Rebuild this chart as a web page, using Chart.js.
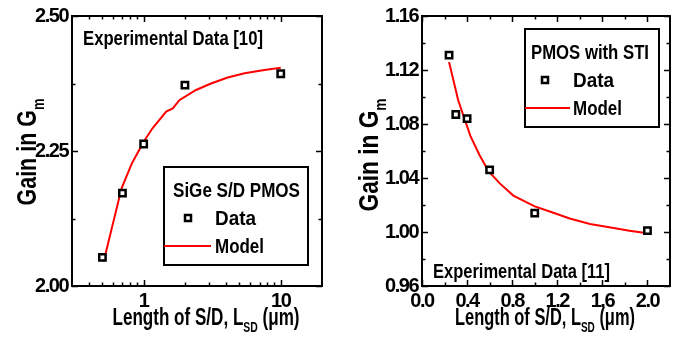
<!DOCTYPE html>
<html>
<head>
<meta charset="utf-8">
<script src="https://cdn.jsdelivr.net/npm/chart.js@4"></script>
<style>
  html, body { margin: 0; padding: 0; background: #fff; overflow: hidden; }
  #wrap { position: relative; width: 677px; height: 341px; }
  #left { position: absolute; left: 0; top: 0; }
  #right { position: absolute; left: 338px; top: 0; }
</style>
</head>
<body>
<div id="wrap">
  <canvas id="left" width="338" height="341"></canvas>
  <canvas id="right" width="339" height="341"></canvas>
</div>
<script>
// SiGe S/D PMOS, experimental data [10]
const sigeLength = [0.5, 0.7, 1.0, 2.0, 10];
const sigeGain = [2.053, 2.172, 2.263, 2.372, 2.393];
const sigeModelLength = [0.51, 0.69, 0.82, 1.0, 1.16, 1.46, 1.63, 1.82, 2.41, 3.1, 4.1, 5.45, 7.6, 10];
const sigeModelGain = [2.045, 2.181, 2.227, 2.267, 2.292, 2.323, 2.329, 2.344, 2.363, 2.375, 2.386, 2.394, 2.400, 2.404];

// PMOS with STI, experimental data [11]
const stiLength = [0.24, 0.30, 0.40, 0.60, 1.0, 2.0];
const stiGain = [1.131, 1.087, 1.084, 1.046, 1.014, 1.001];
const stiModelLength = [0.24, 0.32, 0.36, 0.43, 0.51, 0.59, 0.69, 0.81, 1.0, 1.14, 1.31, 1.49, 1.70, 1.84, 2.0];
const stiModelGain = [1.126, 1.098, 1.088, 1.071, 1.057, 1.045, 1.036, 1.027, 1.019, 1.015, 1.010, 1.006, 1.003, 1.001, 0.999];

// tick values
const sigeXMajor = [1, 10];
const sigeXMinor = [0.4, 0.5, 0.6, 0.7, 0.8, 0.9, 2, 3, 4, 5, 6, 7, 8, 9];
const sigeYMajor = [2.00, 2.25, 2.50];
const sigeYMinor = [2.125, 2.375];
const stiXMajor = [0.0, 0.4, 0.8, 1.2, 1.6, 2.0];
const stiXMinor = [0.2, 0.6, 1.0, 1.4, 1.8];
const stiYMajor = [0.96, 1.00, 1.04, 1.08, 1.12, 1.16];
const stiYMinor = [0.98, 1.02, 1.06, 1.10, 1.14];

const FAMILY = '"Liberation Sans", Arial, sans-serif';
const fnt = size => 'bold ' + size + 'px ' + FAMILY;

const pts = (xs, ys) => xs.map((x, i) => ({ x: x, y: ys[i] }));

// draws text made of runs (normal + subscript), squeezed to a target width
function drawRuns(ctx, parts, x, y, size, targetW, align, rotate) {
  ctx.save();
  ctx.translate(x, y);
  if (rotate) ctx.rotate(-Math.PI / 2);
  ctx.textBaseline = 'alphabetic';
  ctx.textAlign = 'left';
  ctx.fillStyle = '#000';
  const widths = parts.map(p => {
    ctx.font = fnt(p.sub ? Math.round(size * 0.62) : size);
    return ctx.measureText(p.t).width;
  });
  const total = widths.reduce((a, b) => a + b, 0);
  const sx = targetW ? targetW / total : 1;
  ctx.scale(sx, 1);
  let cx = align === 'center' ? -total / 2 : 0;
  parts.forEach((p, i) => {
    ctx.font = fnt(p.sub ? Math.round(size * 0.62) : size);
    ctx.fillText(p.t, cx, p.sub ? size * 0.3 : 0);
    cx += widths[i];
  });
  ctx.restore();
}

function makeFrame(spec) {
  return {
    id: 'frame',
    beforeDraw(chart) { chart.ctx.letterSpacing = '-1.5px'; },
    afterDraw(chart) {
      const ctx = chart.ctx, a = chart.chartArea;
      const xs = chart.scales.x, ys = chart.scales.y;
      ctx.save();
      ctx.letterSpacing = '0px';
      ctx.strokeStyle = '#000';
      ctx.lineWidth = 2;
      ctx.strokeRect(a.left, a.top, a.right - a.left, a.bottom - a.top);
      ctx.lineWidth = 1.5;
      ctx.beginPath();
      const tick = (vals, len, axis) => vals.forEach(v => {
        if (axis === 'x') {
          const p = Math.round(xs.getPixelForValue(v)) + 0.5;
          ctx.moveTo(p, a.bottom); ctx.lineTo(p, a.bottom - len);
          ctx.moveTo(p, a.top); ctx.lineTo(p, a.top + len);
        } else {
          const p = Math.round(ys.getPixelForValue(v)) + 0.5;
          ctx.moveTo(a.left, p); ctx.lineTo(a.left + len, p);
          ctx.moveTo(a.right, p); ctx.lineTo(a.right - len, p);
        }
      });
      tick(spec.xMajor, 6, 'x'); tick(spec.xMinor, 3.5, 'x');
      tick(spec.yMajor, 6, 'y'); tick(spec.yMinor, 3.5, 'y');
      ctx.stroke();

      // axis titles
      drawRuns(ctx, [{ t: 'Length of S/D, L' }, { t: 'SD', sub: true }, { t: ' (\u03bcm)' }],
        spec.xTitle.x, spec.xTitle.y, 23, spec.xTitle.w, 'center', false);
      drawRuns(ctx, [{ t: 'Gain in G' }, { t: 'm', sub: true }],
        spec.yTitle.x, spec.yTitle.y, 28, spec.yTitle.w, 'center', true);

      // note
      drawRuns(ctx, [{ t: spec.note.t }], spec.note.x, spec.note.y, 21, spec.note.w, 'left', false);

      // legend box
      const L = spec.legend;
      ctx.lineWidth = 2;
      ctx.strokeStyle = '#000';
      ctx.strokeRect(L.x, L.y, L.w, L.h);
      drawRuns(ctx, [{ t: L.title }], L.x + L.tx, L.y + 30, 21, L.tw, 'left', false);
      ctx.fillStyle = '#fff';
      ctx.lineWidth = 2.5;
      ctx.fillRect(L.x + L.mx - 3, L.y + 51 - 3, 6, 6);
      ctx.strokeRect(L.x + L.mx - 3, L.y + 51 - 3, 6, 6);
      drawRuns(ctx, [{ t: 'Data' }], L.x + L.dx, L.y + 58, 21, 41, 'left', false);
      ctx.strokeStyle = '#ff0000';
      ctx.lineWidth = 2;
      ctx.beginPath();
      ctx.moveTo(L.x, L.y + 79); ctx.lineTo(L.x + L.lw, L.y + 79);
      ctx.stroke();
      drawRuns(ctx, [{ t: 'Model' }], L.x + L.dx, L.y + 86, 21, 49, 'left', false);
      ctx.restore();
    }
  };
}

function makeChart(id, xType, xMin, xMax, yMin, yMax, xMajor, yMajor, xFmt, yFmt,
                   dataPts, modelPts, pad, yWidth, spec) {
  const tickFont = { family: FAMILY, size: 20, weight: 'bold' };
  return new Chart(document.getElementById(id), {
    type: 'scatter',
    data: {
      datasets: [
        {
          label: 'Data',
          data: dataPts,
          pointStyle: 'rect',
          pointRadius: 4.5,
          pointBorderWidth: 2.5,
          pointBorderColor: '#000',
          pointBackgroundColor: '#fff',
          showLine: false,
          order: 0
        },
        {
          label: 'Model',
          data: modelPts,
          showLine: true,
          borderColor: '#ff0000',
          borderWidth: 2,
          pointRadius: 0,
          tension: 0,
          fill: false,
          order: 1
        }
      ]
    },
    options: {
      responsive: false,
      animation: false,
      events: [],
      layout: { padding: { top: 16, right: pad, left: 0, bottom: 0 } },
      plugins: { legend: { display: false }, tooltip: { enabled: false } },
      scales: {
        x: {
          type: xType, min: xMin, max: xMax,
          grid: { display: false, drawTicks: false },
          border: { display: false },
          afterBuildTicks: s => { s.ticks = xMajor.map(v => ({ value: v })); },
          afterFit: s => { s.height = 55; },
          ticks: { font: tickFont, color: '#000', padding: 3, maxRotation: 0, autoSkip: false, callback: xFmt }
        },
        y: {
          min: yMin, max: yMax,
          grid: { display: false, drawTicks: false },
          border: { display: false },
          afterBuildTicks: s => { s.ticks = yMajor.map(v => ({ value: v })); },
          afterFit: s => { s.width = yWidth; },
          ticks: { font: tickFont, color: '#000', padding: 4, autoSkip: false, callback: yFmt }
        }
      }
    },
    plugins: [makeFrame(spec)]
  });
}

makeChart('left', 'logarithmic', 0.3, 20, 2.0, 2.5, sigeXMajor, sigeYMajor,
  v => String(v), v => v.toFixed(2),
  pts(sigeLength, sigeGain), pts(sigeModelLength, sigeModelGain), 16, 72,
  {
    xMajor: sigeXMajor, xMinor: sigeXMinor, yMajor: sigeYMajor, yMinor: sigeYMinor,
    xTitle: { x: 206, y: 325, w: 187 },
    yTitle: { x: 36, y: 152, w: 107 },
    note: { t: 'Experimental Data [10]', x: 83, y: 45, w: 180 },
    legend: { x: 164, y: 167, w: 144, h: 98, title: 'SiGe S/D PMOS', tx: 9, tw: 127, mx: 24, dx: 51, lw: 47 }
  });

makeChart('right', 'linear', 0, 2.2, 0.96, 1.16, stiXMajor, stiYMajor,
  v => v.toFixed(1), v => v.toFixed(2),
  pts(stiLength, stiGain), pts(stiModelLength, stiModelGain), 6, 84,
  {
    xMajor: stiXMajor, xMinor: stiXMinor, yMajor: stiYMajor, yMinor: stiYMinor,
    xTitle: { x: 207, y: 325, w: 180 },
    yTitle: { x: 40, y: 155, w: 113 },
    note: { t: 'Experimental Data [11]', x: 95, y: 278, w: 177 },
    legend: { x: 187, y: 29, w: 134, h: 98, title: 'PMOS with STI', tx: 6, tw: 118, mx: 20, dx: 48, lw: 45 }
  });
</script>
</body>
</html>
